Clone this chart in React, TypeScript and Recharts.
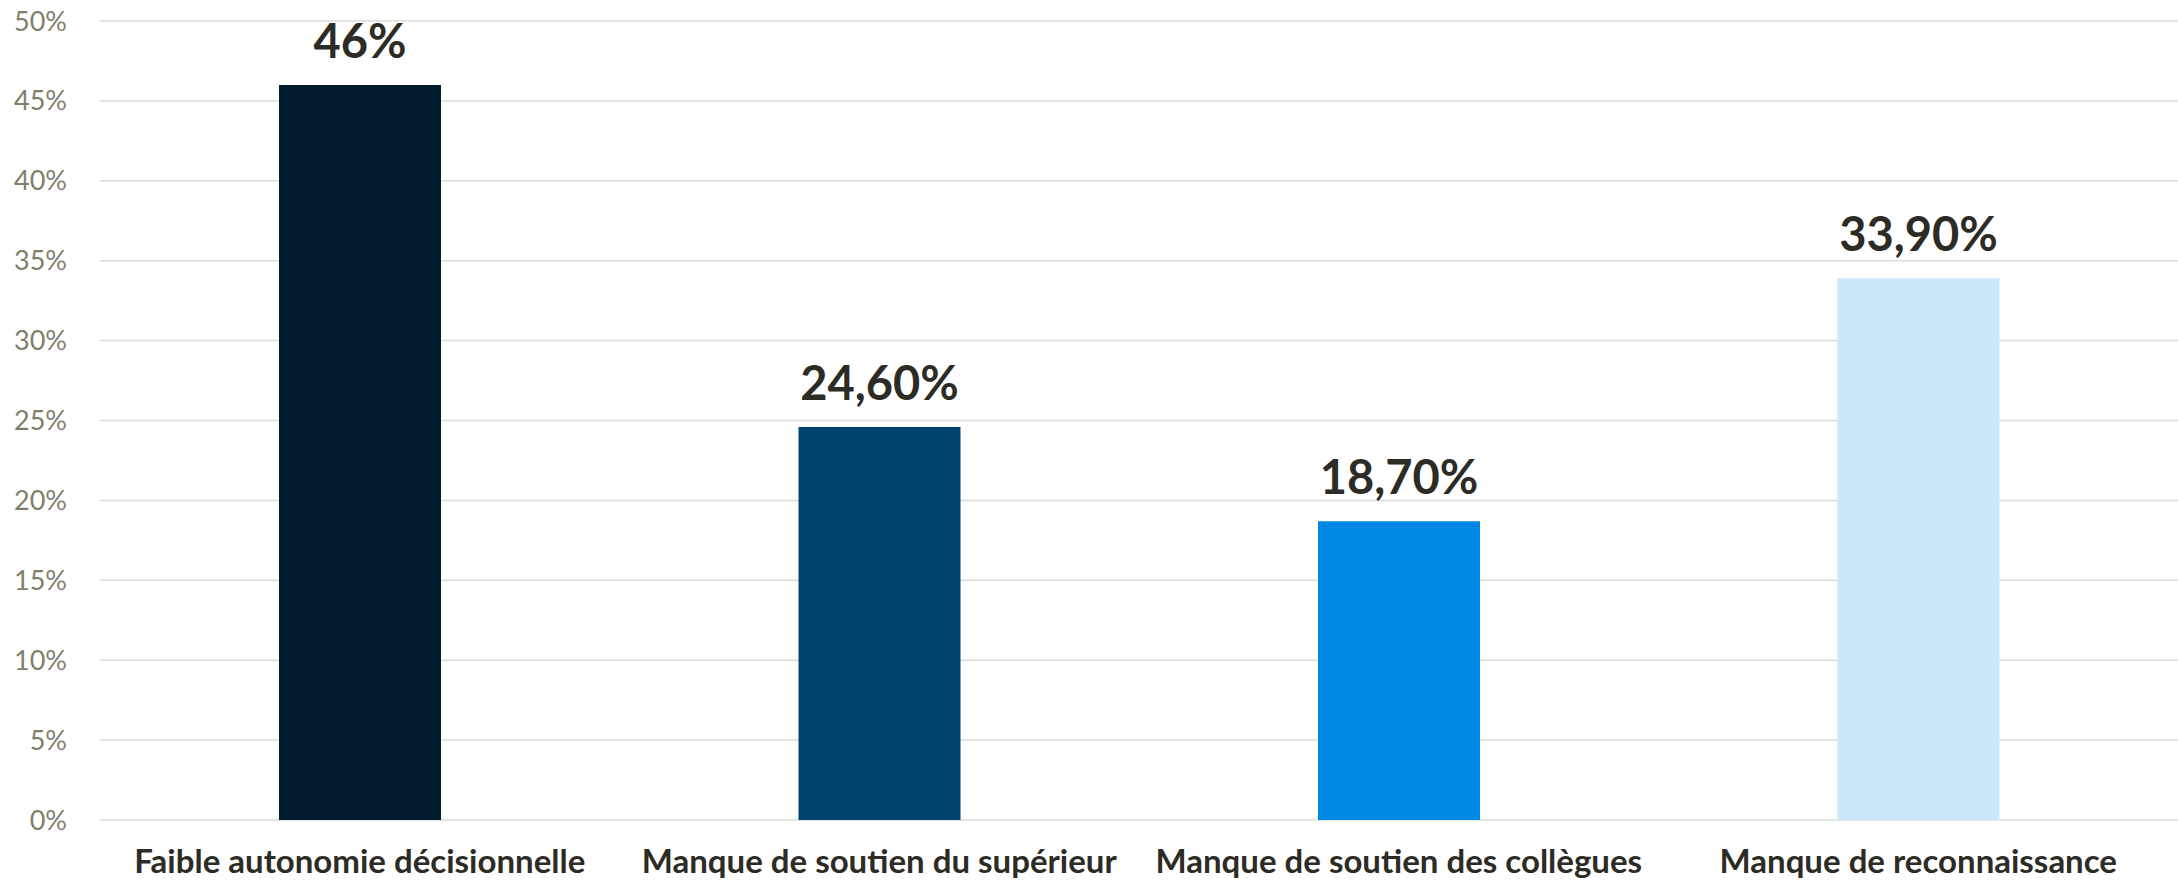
import { BarChart, Bar, XAxis, YAxis, CartesianGrid, Cell, LabelList } from "recharts";

const categories = [
  "Faible autonomie décisionnelle",
  "Manque de soutien du supérieur",
  "Manque de soutien des collègues",
  "Manque de reconnaissance",
];
const values = [46, 24.6, 18.7, 33.9];
const valueLabels = ["46%", "24,60%", "18,70%", "33,90%"];
const barColors = ["#021C30", "#00426F", "#0087E3", "#CBE7FB"];
const yTicks = [0, 5, 10, 15, 20, 25, 30, 35, 40, 45, 50];

const data = categories.map((name, i) => ({ name, value: values[i], label: valueLabels[i] }));

const FONT = "Lato, 'Open Sans', sans-serif";

export default function App() {
  return (
    <div style={{ position: "absolute", left: 0, top: 0, width: 2178, height: 882, background: "#fff" }}>
      <BarChart width={2178} height={882} data={data} margin={{ top: 21, right: 0, left: 0, bottom: 0 }}>
        <CartesianGrid vertical={false} stroke="#DCDCD4" strokeWidth={1.5} />
        <XAxis
          dataKey="name"
          height={62}
          axisLine={false}
          tickLine={false}
          tickSize={0}
          tickMargin={30}
          interval={0}
          tick={{ fontSize: 33, fontWeight: 700, fill: "#2D2B25", fontFamily: FONT }}
        />
        <YAxis
          width={100}
          domain={[0, 50]}
          ticks={yTicks}
          axisLine={false}
          tickLine={false}
          tickSize={0}
          tickMargin={33}
          tickFormatter={(v) => `${v}%`}
          tick={{ fontSize: 27, fill: "#7F7F6C", fontFamily: FONT }}
        />
        <Bar dataKey="value" barSize={162} isAnimationActive={false}>
          {data.map((d, i) => (
            <Cell key={d.name} fill={barColors[i]} />
          ))}
          <LabelList
            dataKey="label"
            position="top"
            offset={27}
            style={{ fontSize: 47, fontWeight: 700, fill: "#2D2B25", fontFamily: FONT }}
          />
        </Bar>
      </BarChart>
    </div>
  );
}
